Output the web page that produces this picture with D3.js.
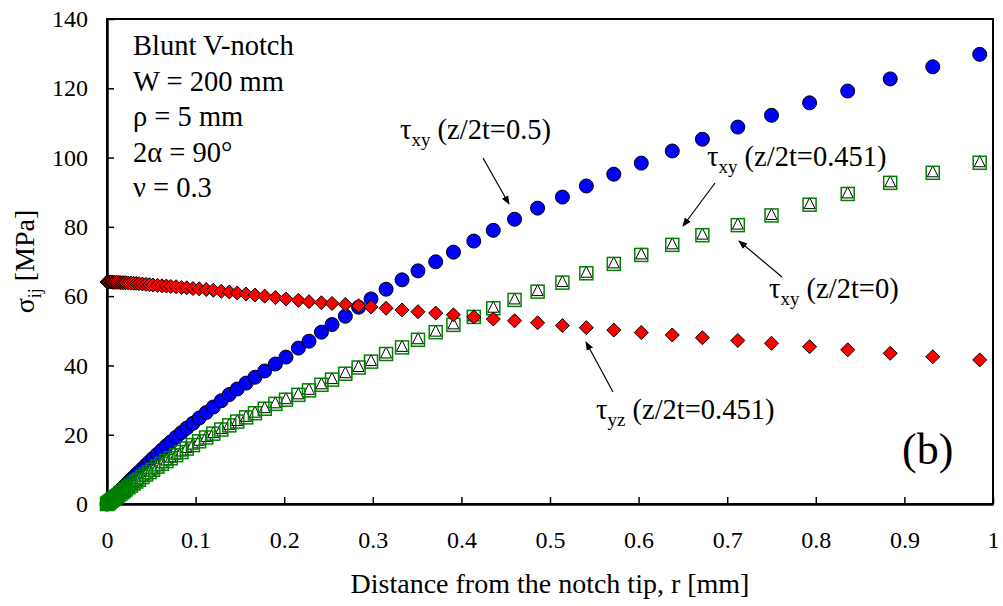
<!DOCTYPE html>
<html lang="en">
<head>
    <meta charset="utf-8" />
    <title>Blunt V-notch stresses</title>
    <script src="https://d3js.org/d3.v7.min.js"></script>
    <style>
        body {
            margin: 0;
            padding: 0;
            background: white;
        }
        svg text {
            font-family: "Liberation Serif", "DejaVu Serif", "Noto Serif", "FreeSerif", Times, serif !important;
            fill: black;
        }
    </style>
</head>
<body>
<svg id="chart"></svg>
<script>
    var w = 1003;
    var h = 606;

    // distance from the notch tip r [mm] (same for all series)
    var rValues = [0, 0.001, 0.002, 0.003, 0.0045, 0.006, 0.0075, 0.009, 0.011, 0.013,
        0.015, 0.017, 0.019, 0.021, 0.024, 0.027, 0.030, 0.033, 0.036, 0.040,
        0.044, 0.048, 0.052, 0.057, 0.062, 0.067, 0.072, 0.078, 0.084, 0.090,
        0.097, 0.104, 0.112, 0.120, 0.129, 0.138, 0.147, 0.157, 0.167, 0.178,
        0.190, 0.202, 0.216, 0.228, 0.242, 0.254, 0.269, 0.284, 0.298, 0.315,
        0.333, 0.351, 0.371, 0.391, 0.414, 0.436, 0.460, 0.486, 0.514, 0.541,
        0.572, 0.603, 0.638, 0.672, 0.712, 0.750, 0.793, 0.836, 0.884, 0.932, 0.985];

    // tau_xy at z/2t = 0.5 (blue circles)
    var tauXyMid = [0, 0.3, 0.5, 0.8, 1.2, 1.6, 2.0, 2.4, 2.9, 3.4,
        3.9, 4.4, 4.9, 5.4, 6.2, 7.0, 7.7, 8.5, 9.2, 10.2,
        11.2, 12.2, 13.2, 14.4, 15.6, 16.8, 17.9, 19.3, 20.6, 21.9,
        23.3, 24.8, 26.4, 28.0, 29.8, 31.6, 33.2, 34.9, 36.6, 38.4,
        40.4, 42.4, 45.0, 47.0, 49.6, 51.8, 54.2, 56.8, 59.2, 62.0,
        64.7, 67.3, 69.9, 72.7, 75.9, 79.0, 82.2, 85.4, 88.6, 91.8,
        95.2, 98.4, 101.9, 105.3, 108.8, 112.2, 115.8, 119.2, 122.7, 126.2, 129.8];

    // tau_xy at z/2t = 0 (green squares)
    var tauXyFace = [0, 0.2, 0.4, 0.6, 0.9, 1.2, 1.5, 1.8, 2.2, 2.6,
        3.0, 3.4, 3.8, 4.2, 4.8, 5.3, 5.9, 6.5, 7.0, 7.8,
        8.5, 9.2, 9.9, 10.8, 11.6, 12.4, 13.2, 14.1, 15.0, 16.0,
        17.0, 18.1, 19.2, 20.3, 21.5, 22.7, 23.8, 25.0, 26.2, 27.5,
        28.9, 30.1, 31.5, 32.8, 34.4, 35.9, 37.6, 39.4, 41.1, 43.3,
        45.2, 47.4, 49.6, 51.7, 54.0, 56.5, 58.9, 61.3, 63.9, 66.6,
        69.3, 71.9, 74.8, 77.6, 80.5, 83.3, 86.4, 89.5, 92.7, 95.6, 98.5];

    // tau_xy at z/2t = 0.451 (white triangles)
    var tauXyNear = [0, 0.2, 0.4, 0.6, 0.9, 1.2, 1.5, 1.9, 2.3, 2.7,
        3.1, 3.5, 3.9, 4.3, 4.9, 5.5, 6.1, 6.7, 7.2, 8.0,
        8.7, 9.4, 10.1, 11.0, 11.9, 12.7, 13.5, 14.4, 15.3, 16.3,
        17.3, 18.4, 19.5, 20.6, 21.8, 23.0, 24.1, 25.3, 26.5, 27.8,
        29.2, 30.4, 31.8, 33.1, 34.7, 36.2, 37.9, 39.7, 41.4, 43.6,
        45.5, 47.7, 49.9, 52.0, 54.3, 56.8, 59.2, 61.6, 64.2, 66.9,
        69.6, 72.2, 75.1, 77.9, 80.8, 83.6, 86.7, 89.8, 93.0, 95.9, 98.8];

    // tau_yz at z/2t = 0.451 (red diamonds)
    var tauYzNear = [64.1, 64.1, 64.1, 64.1, 64.1, 64.0, 64.0, 64.0, 64.0, 64.0,
        63.9, 63.9, 63.9, 63.9, 63.8, 63.8, 63.7, 63.7, 63.6, 63.5,
        63.4, 63.3, 63.2, 63.1, 63.0, 62.9, 62.8, 62.7, 62.5, 62.4,
        62.2, 62.1, 61.9, 61.7, 61.4, 61.2, 60.9, 60.6, 60.3, 60.0,
        59.6, 59.2, 58.8, 58.4, 58.1, 57.9, 57.6, 57.2, 56.9, 56.5,
        56.0, 55.5, 55.1, 54.6, 54.0, 53.4, 52.9, 52.3, 51.5, 50.9,
        50.2, 49.5, 48.8, 48.0, 47.2, 46.4, 45.4, 44.5, 43.5, 42.5, 41.6];

    var xTicks = [0, 0.1, 0.2, 0.3, 0.4, 0.5, 0.6, 0.7, 0.8, 0.9, 1];
    var xTickLabels = ["0", "0.1", "0.2", "0.3", "0.4", "0.5", "0.6", "0.7", "0.8", "0.9", "1"];
    var yTicks = [0, 20, 40, 60, 80, 100, 120, 140];

    var infoLines = ["Blunt V-notch", "W = 200 mm", "\u03C1 = 5 mm", "2\u03B1 = 90\u00B0", "\u03BD = 0.3"];

    var margin = {left: 107, right: 10, top: 19, bottom: 102};

    var svg = d3.select("#chart")
                .attr("width", w)
                .attr("height", h);

    var xScale = d3.scaleLinear()
                .domain([0, 1])
                .range([margin.left, w - margin.right]);

    var yScale = d3.scaleLinear()
                .domain([0, 140])
                .range([h - margin.bottom, margin.top]);

    var x0 = xScale(0), x1 = xScale(1), y0 = yScale(0), y1 = yScale(140);

    // plot area frame (top and right)
    svg.append("rect")
        .attr("x", x0)
        .attr("y", y1)
        .attr("width", x1 - x0)
        .attr("height", y0 - y1)
        .attr("fill", "none")
        .attr("stroke", "black")
        .attr("stroke-width", 2);

    // x axis, ticks pointing inwards
    var xAxis = d3.axisBottom(xScale)
                .tickValues(xTicks)
                .tickFormat(function(d, i) { return xTickLabels[i]; })
                .tickSizeInner(-7)
                .tickSizeOuter(0)
                .tickPadding(27);

    var gx = svg.append("g")
        .attr("transform", "translate(0," + y0 + ")")
        .call(xAxis);
    gx.select(".domain").attr("stroke-width", 2.5);
    gx.selectAll(".tick line").attr("stroke-width", 1.5);
    gx.selectAll(".tick text").attr("font-size", "24px");

    var yAxis = d3.axisLeft(yScale)
                .tickValues(yTicks)
                .tickSizeInner(-7)
                .tickSizeOuter(0)
                .tickPadding(19);

    var gy = svg.append("g")
        .attr("transform", "translate(" + x0 + ",0)")
        .call(yAxis);
    gy.select(".domain").attr("stroke-width", 2.5);
    gy.selectAll(".tick line").attr("stroke-width", 1.5);
    gy.selectAll(".tick text").attr("font-size", "24px");

    // axis titles
    svg.append("text")
        .attr("x", (x0 + x1) / 2)
        .attr("y", 593)
        .attr("text-anchor", "middle")
        .attr("font-size", "28px")
        .text("Distance from the notch tip, r [mm]");

    var yTitle = svg.append("text")
        .attr("transform", "translate(34," + ((y0 + y1) / 2) + ") rotate(-90)")
        .attr("text-anchor", "middle")
        .attr("font-size", "28px");
    yTitle.append("tspan").text("\u03C3");
    yTitle.append("tspan").attr("font-size", "18px").attr("dy", 7).text("ij");
    yTitle.append("tspan").attr("dy", -7).text(" [MPa]");

    var points = rValues.map(function(r, i) {
        return {r: r, mid: tauXyMid[i], face: tauXyFace[i], near: tauXyNear[i], yz: tauYzNear[i]};
    });

    var plot = svg.append("g");

    // blue circles
    plot.selectAll(".mid")
        .data(points)
        .enter().append("circle")
        .attr("class", "mid")
        .attr("cx", function(d) { return xScale(d.r); })
        .attr("cy", function(d) { return yScale(d.mid); })
        .attr("r", 7)
        .attr("fill", "#0000ff")
        .attr("stroke", "black")
        .attr("stroke-width", 1);

    // white triangles
    plot.selectAll(".near")
        .data(points)
        .enter().append("path")
        .attr("class", "near")
        .attr("transform", function(d) {
            return "translate(" + xScale(d.r) + "," + yScale(d.near) + ")";
        })
        .attr("d", "M0,-6L5.5,5L-5.5,5Z")
        .attr("fill", "white")
        .attr("stroke", "black")
        .attr("stroke-width", 1);

    // green hollow squares
    plot.selectAll(".face")
        .data(points)
        .enter().append("rect")
        .attr("class", "face")
        .attr("x", function(d) { return xScale(d.r) - 6.5; })
        .attr("y", function(d) { return yScale(d.face) - 6.5; })
        .attr("width", 13)
        .attr("height", 13)
        .attr("fill", "none")
        .attr("stroke", "#008000")
        .attr("stroke-width", 1.5);

    // red diamonds
    plot.selectAll(".yz")
        .data(points)
        .enter().append("path")
        .attr("class", "yz")
        .attr("transform", function(d) {
            return "translate(" + xScale(d.r) + "," + yScale(d.yz) + ")";
        })
        .attr("d", "M0,-7L7,0L0,7L-7,0Z")
        .attr("fill", "#ff0000")
        .attr("stroke", "black")
        .attr("stroke-width", 1);

    // info block
    svg.append("g").selectAll("text")
        .data(infoLines)
        .enter().append("text")
        .attr("x", 133)
        .attr("y", function(d, i) { return 55 + i * 35.5; })
        .attr("font-size", "28.5px")
        .text(function(d) { return d; });

    // arrow head marker
    svg.append("defs").append("marker")
        .attr("id", "arrow")
        .attr("viewBox", "0 0 10 10")
        .attr("refX", 9)
        .attr("refY", 5)
        .attr("markerWidth", 9)
        .attr("markerHeight", 9)
        .attr("markerUnits", "userSpaceOnUse")
        .attr("orient", "auto")
        .append("path")
        .attr("d", "M0,1L10,5L0,9Z")
        .attr("fill", "black");

    function label(x, y, sub, rest) {
        var t = svg.append("text")
            .attr("x", x)
            .attr("y", y)
            .attr("font-size", "28.5px");
        t.append("tspan").text("\u03C4");
        t.append("tspan").attr("font-size", "19px").attr("dy", 7).text(sub);
        t.append("tspan").attr("dy", -7).text(" " + rest);
    }

    function arrow(xa, ya, xb, yb) {
        svg.append("line")
            .attr("x1", xa).attr("y1", ya)
            .attr("x2", xb).attr("y2", yb)
            .attr("stroke", "black")
            .attr("stroke-width", 1.2)
            .attr("marker-end", "url(#arrow)");
    }

    label(400, 139, "xy", "(z/2t=0.5)");
    arrow(483, 158, 509, 204);

    label(707, 166, "xy", "(z/2t=0.451)");
    arrow(715, 183, 683, 226);

    label(769, 298, "xy", "(z/2t=0)");
    arrow(782, 277, 739, 241);

    label(596, 419, "yz", "(z/2t=0.451)");
    arrow(613, 392, 586, 342);

    svg.append("text")
        .attr("x", 902)
        .attr("y", 464)
        .attr("font-size", "44px")
        .text("(b)");
</script>
</body>
</html>
